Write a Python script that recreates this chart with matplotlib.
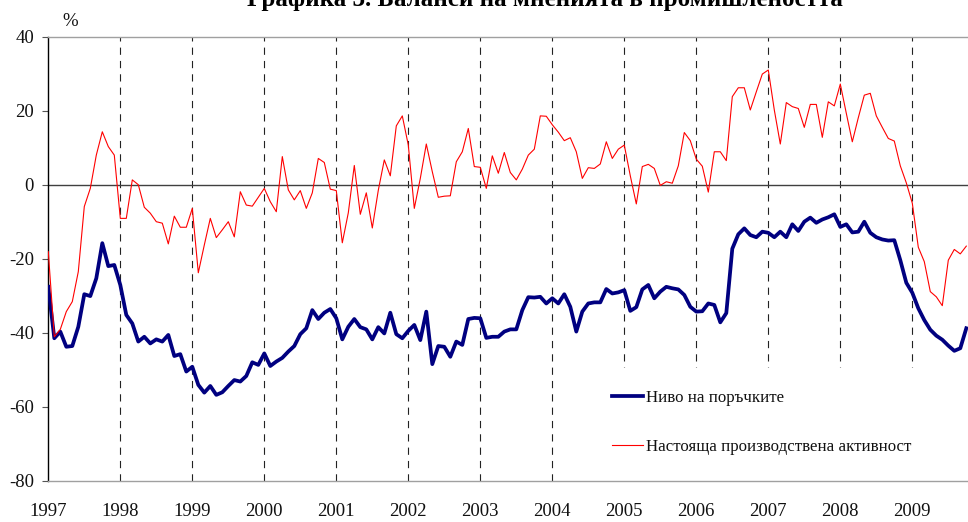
import matplotlib
matplotlib.use('Agg')
import matplotlib.pyplot as plt
import matplotlib.patches as patches

plt.rcParams['font.family'] = ['Liberation Serif', 'DejaVu Serif']

TITLE = 'Графика 3. Баланси на мненията в промишлеността'
ORDERS_LABEL = 'Ниво на поръчките'
ACTIVITY_LABEL = 'Настояща производствена активност'

years = list(range(1997, 2010))

# monthly balances, Jan 1997 .. Oct 2009 (one row per year)
orders = [
    -27.6, -41.5, -39.7, -43.8, -43.6, -38.4, -29.6, -30.1, -25.3, -15.8, -22.0, -21.7,
    -27.1, -35.2, -37.5, -42.4, -41.1, -42.9, -41.8, -42.4, -40.6, -46.3, -45.8, -50.5,
    -49.2, -54.1, -56.2, -54.4, -56.8, -56.1, -54.4, -52.8, -53.2, -51.7, -48.0, -48.7,
    -45.6, -49.0, -47.8, -46.8, -45.1, -43.6, -40.4, -38.8, -33.9, -36.3, -34.6, -33.6,
    -36.1, -41.8, -38.4, -36.3, -38.5, -39.1, -41.8, -38.5, -40.2, -34.6, -40.4, -41.5,
    -39.5, -37.9, -42.0, -34.3, -48.5, -43.6, -43.8, -46.5, -42.4, -43.3, -36.3, -36.0,
    -36.1, -41.4, -41.1, -41.1, -39.7, -39.1, -39.1, -33.9, -30.4, -30.5, -30.3, -32.1,
    -30.7, -32.1, -29.6, -33.0, -39.7, -34.3, -32.1, -31.8, -31.8, -28.2, -29.4, -29.1,
    -28.5, -34.1, -33.1, -28.3, -27.1, -30.7, -28.9, -27.6, -28.0, -28.3, -29.8, -33.0,
    -34.3, -34.2, -32.1, -32.5, -37.2, -34.7, -17.3, -13.4, -11.8, -13.6, -14.2, -12.7,
    -13.0, -14.2, -12.7, -14.2, -10.7, -12.5, -10.0, -8.9, -10.3, -9.4, -8.8, -8.0,
    -11.4, -10.7, -12.9, -12.7, -10.0, -13.0, -14.2, -14.8, -15.1, -15.0, -20.4, -26.5,
    -29.2, -33.4, -36.6, -39.2, -40.8, -41.9, -43.5, -44.9, -44.2, -38.8,
]

activity = [
    -18.1, -41.1, -39.1, -34.3, -31.6, -23.5, -5.9, -1.0, 8.0, 14.3, 10.3, 8.0,
    -9.1, -9.1, 1.3, 0.0, -6.1, -7.7, -10.0, -10.4, -16.0, -8.5, -11.5, -11.5,
    -6.4, -23.8, -16.3, -9.1, -14.3, -12.2, -10.0, -14.1, -1.9, -5.5, -5.8, -3.4,
    -1.0, -4.6, -7.3, 7.6, -1.4, -4.1, -1.6, -6.4, -2.2, 7.1, 6.0, -1.2,
    -1.6, -15.7, -7.6, 5.2, -8.0, -2.2, -11.7, -1.5, 6.7, 2.4, 15.9, 18.6,
    10.7, -6.4, 1.7, 11.0, 3.5, -3.4, -3.1, -3.0, 6.2, 8.9, 15.2, 4.9,
    4.7, -1.0, 7.8, 3.1, 8.7, 3.3, 1.3, 4.2, 8.0, 9.6, 18.6, 18.5,
    16.2, 14.2, 11.9, 12.7, 8.9, 1.7, 4.6, 4.4, 5.6, 11.6, 7.1, 9.6,
    10.7, 2.4, -5.2, 4.9, 5.5, 4.4, -0.2, 0.8, 0.4, 5.1, 14.1, 11.9,
    6.9, 5.0, -2.0, 8.9, 8.9, 6.5, 23.8, 26.2, 26.2, 20.2, 25.1, 29.9,
    31.0, 20.2, 11.0, 22.2, 21.1, 20.6, 15.5, 21.7, 21.7, 12.8, 22.4, 21.3,
    27.2, 19.3, 11.6, 18.1, 24.2, 24.7, 18.6, 15.5, 12.5, 11.8, 5.1, 0.5,
    -5.0, -16.9, -20.8, -28.9, -30.3, -32.7, -20.4, -17.5, -18.7, -16.6,
]

yticks = [-80, -60, -40, -20, 0, 20, 40]

W, H = 968, 522
fig = plt.figure(figsize=(W / 100, H / 100), dpi=100, facecolor='white')
ax = fig.add_axes([48.3 / W, 1 - 480.7 / H, (W - 48.3) / W, 444 / H])

months = list(range(len(orders)))
ax.set_xlim(0, (W - 48.3) / 6.0)
ax.set_ylim(-80, 40)

# year separators and zero line
for k in range(1, len(years)):
    ax.axvline(12 * k, color='#222222', lw=0.8, linestyle=(0, (6.5, 5.5)), zorder=1)
ax.axhline(0, color='#404040', lw=1.0, zorder=1.2)

# legend sits on a white patch that hides the separators underneath
ax.add_patch(patches.Rectangle((92.5, -80), 70, 30.5, facecolor='white',
                               edgecolor='none', zorder=1.5))

l1, = ax.plot(months, orders, color='#000080', lw=2.7, zorder=3,
              solid_joinstyle='round', label=ORDERS_LABEL)
l2, = ax.plot(months, activity, color='#ff0000', lw=0.8, zorder=3.1,
              label=ACTIVITY_LABEL)

for side in ('top', 'bottom'):
    ax.spines[side].set_color('#a0a0a0')
    ax.spines[side].set_linewidth(1.0)
ax.spines['left'].set_color('black')
ax.spines['left'].set_linewidth(1.0)
ax.spines['right'].set_visible(False)

ax.set_yticks(yticks)
ax.set_yticklabels([str(v) for v in yticks])
ax.set_xticks([12 * k for k in range(len(years))])
ax.set_xticklabels([str(y) for y in years])
ax.tick_params(axis='y', length=4.3, width=0.8, color='#555555', pad=6,
               labelsize=13.5, labelcolor='#111111')
ax.tick_params(axis='x', length=0, pad=16, labelsize=13.5, labelcolor='#111111')

leg = ax.legend(handles=[l1, l2], loc='upper left',
                bbox_to_anchor=((612 - 48.3) / (W - 48.3), (480.7 - 390) / 444),
                frameon=False, fontsize=12.2, handlelength=1.8, handletextpad=0.2,
                labelspacing=1.95, borderpad=0, borderaxespad=0)
for t in leg.get_texts():
    t.set_color('#111111')

fig.text(70 / W, 1 - 21.7 / H, '%', ha='center', va='center', fontsize=13.5,
         color='#111111')
# the title is clipped at the top edge, as in the source image
fig.text(545 / W, 1 - 6 / H, TITLE, ha='center', va='baseline', fontsize=18,
         weight='bold', color='black')

fig.savefig('out.png', dpi=100, facecolor='white')
